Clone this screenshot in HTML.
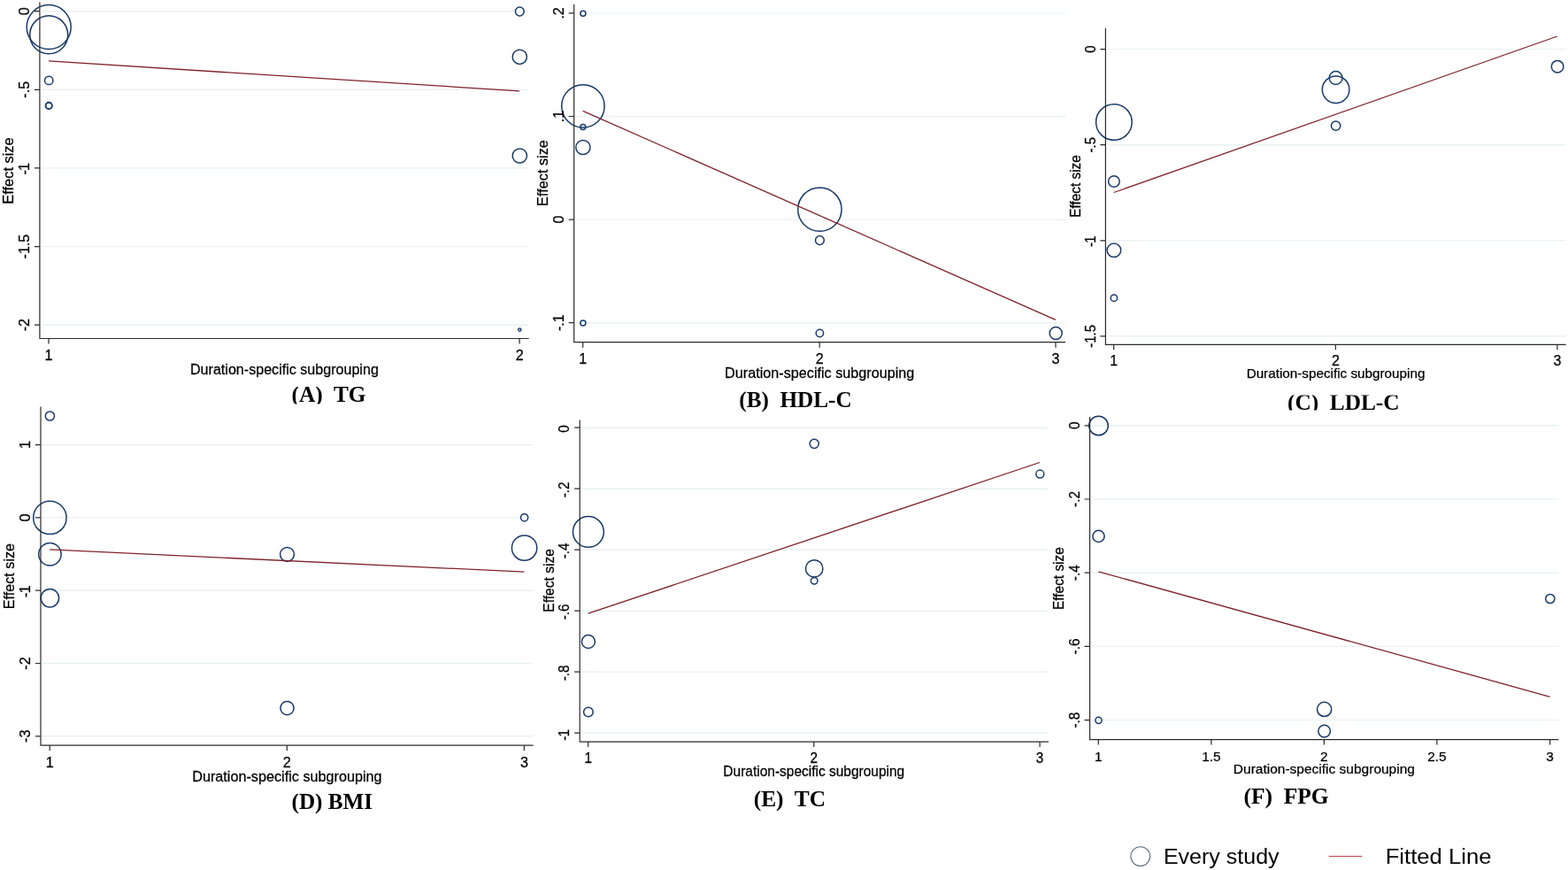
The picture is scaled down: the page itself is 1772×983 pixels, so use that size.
<!DOCTYPE html>
<html lang="en">
<head>
<meta charset="utf-8">
<title>Meta-regression bubble plots</title>
<style>
html,body{margin:0;padding:0;background:#fff;}
body{width:1772px;height:983px;overflow:hidden;position:relative;}
svg{display:block;position:absolute;left:0;top:0;}
text{white-space:pre;}
.s{font-family:"Liberation Sans",Arial,Helvetica,sans-serif;fill:#000;stroke:#000;stroke-width:0.25;}
.t{font-family:"Liberation Serif","Times New Roman",Times,serif;font-weight:bold;fill:#000;}
.lg{font-family:"Liberation Sans",Arial,Helvetica,sans-serif;fill:#000;}
.g{stroke:#eaf2f3;stroke-width:1.4;}
.a{stroke:#2a2a2a;stroke-width:1.2;fill:none;}
.c{stroke:#18396a;stroke-width:1.5;fill:none;}
.f{stroke:#7f222b;stroke-width:1.3;fill:none;}
</style>
</head>
<body>
<svg width="1772" height="983" viewBox="0 0 1772 983" role="img" aria-label="Meta-regression bubble plots by duration-specific subgrouping">
<rect x="0" y="0" width="1772" height="983" fill="#fff"/>
<g id="panel-A">
<line class="g" x1="46.9" y1="12.7" x2="597.6" y2="12.7"/>
<line class="g" x1="46.9" y1="101.3" x2="597.6" y2="101.3"/>
<line class="g" x1="46.9" y1="189.9" x2="597.6" y2="189.9"/>
<line class="g" x1="46.9" y1="278.6" x2="597.6" y2="278.6"/>
<line class="g" x1="46.9" y1="367.2" x2="597.6" y2="367.2"/>
<circle class="c" cx="55.2" cy="30.6" r="25"/>
<circle class="c" cx="55.2" cy="39.3" r="21.5"/>
<circle class="c" cx="55.2" cy="90.9" r="4.7"/>
<circle class="c" cx="55.2" cy="119.4" r="3.8"/>
<circle class="c" cx="55.2" cy="119.6" r="3.5"/>
<circle class="c" cx="587.3" cy="13" r="4.9"/>
<circle class="c" cx="587.3" cy="64.3" r="8.1"/>
<circle class="c" cx="587.3" cy="176" r="8.1"/>
<circle class="c" cx="587.3" cy="372.6" r="1.6"/>
<line class="f" x1="55" y1="68.9" x2="587.1" y2="102.9"/>
<path class="a" d="M44.9 2.5V382.5H597.6"/>
<path class="a" d="M38.9 12.7H44.9M38.9 101.3H44.9M38.9 189.9H44.9M38.9 278.6H44.9M38.9 367.2H44.9M55 382.5V388.5M587.1 382.5V388.5"/>
<text class="s" font-size="16.1" text-anchor="middle" transform="translate(32.6 12.7) rotate(-90) scale(1 1.02)">0</text>
<text class="s" font-size="16.1" text-anchor="middle" transform="translate(32.6 101.3) rotate(-90) scale(1 1.02)">-.5</text>
<text class="s" font-size="16.1" letter-spacing="-0.8" text-anchor="middle" transform="translate(32.6 191.2) rotate(-90) scale(1 1.02)">-1</text>
<text class="s" font-size="16.1" text-anchor="middle" transform="translate(32.6 278.6) rotate(-90) scale(1 1.02)">-1.5</text>
<text class="s" font-size="16.1" text-anchor="middle" transform="translate(32.6 367.2) rotate(-90) scale(1 1.02)">-2</text>
<text class="s" font-size="16.1" text-anchor="middle" transform="translate(55 407) scale(1 1.02)">1</text>
<text class="s" font-size="16.1" text-anchor="middle" transform="translate(587.1 407) scale(1 1.02)">2</text>
<text class="s" font-size="16.4" text-anchor="middle" transform="translate(14.7 193) rotate(-90) scale(1 1.02)">Effect size</text>
<text class="s" font-size="16.1" text-anchor="middle" transform="translate(321.4 422.7) scale(1 1.02)">Duration-specific subgrouping</text>
<clipPath id="clipA"><rect x="309.6" y="436.9" width="300" height="19.7"/></clipPath>
<g clip-path="url(#clipA)"><text class="t" font-size="25.3" x="329.6" y="453.6">(A)  TG</text></g>
</g>
<g id="panel-B">
<line class="g" x1="650.7" y1="14.9" x2="1204" y2="14.9"/>
<line class="g" x1="650.7" y1="131.5" x2="1204" y2="131.5"/>
<line class="g" x1="650.7" y1="248.1" x2="1204" y2="248.1"/>
<line class="g" x1="650.7" y1="364.7" x2="1204" y2="364.7"/>
<circle class="c" cx="658.9" cy="15.2" r="3"/>
<circle class="c" cx="658.9" cy="119.9" r="24.2"/>
<circle class="c" cx="658.9" cy="143.6" r="3"/>
<circle class="c" cx="658.9" cy="166.5" r="8.1"/>
<circle class="c" cx="658.9" cy="364.9" r="3"/>
<circle class="c" cx="926.4" cy="236.6" r="24.7"/>
<circle class="c" cx="926.4" cy="271.5" r="4.9"/>
<circle class="c" cx="926.4" cy="376.5" r="4.2"/>
<circle class="c" cx="1193.2" cy="376.5" r="7"/>
<line class="f" x1="658.7" y1="125.4" x2="1193" y2="361.4"/>
<path class="a" d="M648.7 5V386.7H1204"/>
<path class="a" d="M642.7 14.9H648.7M642.7 131.5H648.7M642.7 248.1H648.7M642.7 364.7H648.7M658.7 386.7V392.7M926.2 386.7V392.7M1193 386.7V392.7"/>
<text class="s" font-size="16.1" text-anchor="middle" transform="translate(636.6 14.9) rotate(-90) scale(1 1.04)">.2</text>
<text class="s" font-size="16.1" text-anchor="middle" transform="translate(636.6 131.5) rotate(-90) scale(1 1.04)">.1</text>
<text class="s" font-size="16.1" text-anchor="middle" transform="translate(636.6 248.1) rotate(-90) scale(1 1.04)">0</text>
<text class="s" font-size="16.1" text-anchor="middle" transform="translate(636.6 364.7) rotate(-90) scale(1 1.04)">-.1</text>
<text class="s" font-size="16.1" text-anchor="middle" transform="translate(658.7 411.1) scale(1 1.04)">1</text>
<text class="s" font-size="16.1" text-anchor="middle" transform="translate(926.2 411.1) scale(1 1.04)">2</text>
<text class="s" font-size="16.1" text-anchor="middle" transform="translate(1193 411.1) scale(1 1.04)">3</text>
<text class="s" font-size="16.3" text-anchor="middle" transform="translate(618.6 195.5) rotate(-90) scale(1 1.04)">Effect size</text>
<text class="s" font-size="16.2" text-anchor="middle" transform="translate(926.2 426.5) scale(1 1.04)">Duration-specific subgrouping</text>
<text class="t" font-size="25.2" x="835.3" y="460">(B)  HDL-C</text>
</g>
<g id="panel-C">
<line class="g" x1="1251.4" y1="55.6" x2="1769.7" y2="55.6"/>
<line class="g" x1="1251.4" y1="163.7" x2="1769.7" y2="163.7"/>
<line class="g" x1="1251.4" y1="271.8" x2="1769.7" y2="271.8"/>
<line class="g" x1="1251.4" y1="379.8" x2="1769.7" y2="379.8"/>
<circle class="c" cx="1258.9" cy="138" r="20.3"/>
<circle class="c" cx="1258.9" cy="205" r="6.3"/>
<circle class="c" cx="1258.9" cy="282.8" r="7.8"/>
<circle class="c" cx="1258.9" cy="336.7" r="3.7"/>
<circle class="c" cx="1509.6" cy="88" r="7.4"/>
<circle class="c" cx="1509.6" cy="101.2" r="15.3"/>
<circle class="c" cx="1509.6" cy="142.1" r="5.2"/>
<circle class="c" cx="1760.1" cy="75.2" r="6.8"/>
<line class="f" x1="1258.7" y1="217.5" x2="1759.9" y2="41"/>
<path class="a" d="M1249.4 31.9V389.3H1769.7"/>
<path class="a" d="M1243.4 55.6H1249.4M1243.4 163.7H1249.4M1243.4 271.8H1249.4M1243.4 379.8H1249.4M1258.7 389.3V395.3M1509.4 389.3V395.3M1759.9 389.3V395.3"/>
<text class="s" font-size="15" text-anchor="middle" transform="translate(1238 55.6) rotate(-90) scale(1 1.15)">0</text>
<text class="s" font-size="15" text-anchor="middle" transform="translate(1238 163.7) rotate(-90) scale(1 1.15)">-.5</text>
<text class="s" font-size="15" letter-spacing="-0.8" text-anchor="middle" transform="translate(1238 273.1) rotate(-90) scale(1 1.15)">-1</text>
<text class="s" font-size="15" text-anchor="middle" transform="translate(1238 379.8) rotate(-90) scale(1 1.15)">-1.5</text>
<text class="s" font-size="16" text-anchor="middle" transform="translate(1258.7 412.7) scale(1 1)">1</text>
<text class="s" font-size="16" text-anchor="middle" transform="translate(1509.4 412.7) scale(1 1)">2</text>
<text class="s" font-size="16" text-anchor="middle" transform="translate(1759.9 412.7) scale(1 1)">3</text>
<text class="s" font-size="15.4" text-anchor="middle" transform="translate(1220.6 210.5) rotate(-90) scale(1 1.1)">Effect size</text>
<text class="s" font-size="15.25" text-anchor="middle" transform="translate(1509.5 427.1) scale(1 1)">Duration-specific subgrouping</text>
<clipPath id="clipC"><rect x="1435" y="446.5" width="300" height="17.1"/></clipPath>
<g clip-path="url(#clipC)"><text class="t" font-size="25.3" x="1455" y="463">(C)  LDL-C</text></g>
</g>
<g id="panel-D">
<line class="g" x1="48" y1="502.6" x2="602.6" y2="502.6"/>
<line class="g" x1="48" y1="584.9" x2="602.6" y2="584.9"/>
<line class="g" x1="48" y1="667.2" x2="602.6" y2="667.2"/>
<line class="g" x1="48" y1="749.5" x2="602.6" y2="749.5"/>
<line class="g" x1="48" y1="831.8" x2="602.6" y2="831.8"/>
<circle class="c" cx="56.4" cy="470" r="5.1"/>
<circle class="c" cx="56.4" cy="584.9" r="18.7"/>
<circle class="c" cx="56.4" cy="626.3" r="12.7"/>
<circle class="c" cx="56.4" cy="675.7" r="10.2"/>
<circle class="c" cx="324.5" cy="626.4" r="7.9"/>
<circle class="c" cx="324.5" cy="800.1" r="7.6"/>
<circle class="c" cx="592.6" cy="584.8" r="4.1"/>
<circle class="c" cx="592.6" cy="619.1" r="14.2"/>
<line class="f" x1="56.2" y1="620.9" x2="592.4" y2="646.2"/>
<path class="a" d="M46 459.5V842.2H602.6"/>
<path class="a" d="M40 502.6H46M40 584.9H46M40 667.2H46M40 749.5H46M40 831.8H46M56.2 842.2V848.2M324.3 842.2V848.2M592.4 842.2V848.2"/>
<text class="s" font-size="16.2" text-anchor="middle" transform="translate(33.5 502.6) rotate(-90) scale(1 1.05)">1</text>
<text class="s" font-size="16.2" text-anchor="middle" transform="translate(33.5 584.9) rotate(-90) scale(1 1.05)">0</text>
<text class="s" font-size="16.2" letter-spacing="-0.8" text-anchor="middle" transform="translate(33.5 668.5) rotate(-90) scale(1 1.05)">-1</text>
<text class="s" font-size="16.2" text-anchor="middle" transform="translate(33.5 749.5) rotate(-90) scale(1 1.05)">-2</text>
<text class="s" font-size="16.2" text-anchor="middle" transform="translate(33.5 831.8) rotate(-90) scale(1 1.05)">-3</text>
<text class="s" font-size="16.2" text-anchor="middle" transform="translate(56.2 867.1) scale(1 1)">1</text>
<text class="s" font-size="16.2" text-anchor="middle" transform="translate(324.3 867.1) scale(1 1)">2</text>
<text class="s" font-size="16.2" text-anchor="middle" transform="translate(592.4 867.1) scale(1 1)">3</text>
<text class="s" font-size="16.2" text-anchor="middle" transform="translate(15.5 651.1) rotate(-90) scale(1 1.05)">Effect size</text>
<text class="s" font-size="16.2" text-anchor="middle" transform="translate(324.4 882.9) scale(1 1.02)">Duration-specific subgrouping</text>
<clipPath id="clipD"><rect x="309.5" y="896.6" width="300" height="33.4"/></clipPath>
<g clip-path="url(#clipD)"><text class="t" font-size="25.2" x="329.5" y="913.7">(D) BMI</text></g>
</g>
<g id="panel-E">
<line class="g" x1="657.2" y1="483.2" x2="1185" y2="483.2"/>
<line class="g" x1="657.2" y1="552.2" x2="1185" y2="552.2"/>
<line class="g" x1="657.2" y1="621.2" x2="1185" y2="621.2"/>
<line class="g" x1="657.2" y1="690.2" x2="1185" y2="690.2"/>
<line class="g" x1="657.2" y1="759.2" x2="1185" y2="759.2"/>
<line class="g" x1="657.2" y1="828.2" x2="1185" y2="828.2"/>
<circle class="c" cx="664.9" cy="600.9" r="17.4"/>
<circle class="c" cx="664.9" cy="725" r="7.5"/>
<circle class="c" cx="664.9" cy="804.5" r="5.3"/>
<circle class="c" cx="920.2" cy="501.3" r="5.1"/>
<circle class="c" cx="920.2" cy="642.4" r="9.7"/>
<circle class="c" cx="920.2" cy="656.2" r="3.8"/>
<circle class="c" cx="1175.3" cy="535.6" r="4.5"/>
<line class="f" x1="664.7" y1="693.2" x2="1175.1" y2="522.5"/>
<path class="a" d="M655.2 474.4V838.1H1185"/>
<path class="a" d="M649.2 483.2H655.2M649.2 552.2H655.2M649.2 621.2H655.2M649.2 690.2H655.2M649.2 759.2H655.2M649.2 828.2H655.2M664.7 838.1V844.1M919.8 838.1V844.1M1175.1 838.1V844.1"/>
<text class="s" font-size="15.3" text-anchor="middle" transform="translate(643.4 484.4) rotate(-90) scale(1 1.09)">0</text>
<text class="s" font-size="15.3" text-anchor="middle" transform="translate(643.4 553.4) rotate(-90) scale(1 1.09)">-.2</text>
<text class="s" font-size="15.3" text-anchor="middle" transform="translate(643.4 622.4) rotate(-90) scale(1 1.09)">-.4</text>
<text class="s" font-size="15.3" text-anchor="middle" transform="translate(643.4 691.4) rotate(-90) scale(1 1.09)">-.6</text>
<text class="s" font-size="15.3" text-anchor="middle" transform="translate(643.4 760.4) rotate(-90) scale(1 1.09)">-.8</text>
<text class="s" font-size="15.3" letter-spacing="-0.8" text-anchor="middle" transform="translate(643.4 830.7) rotate(-90) scale(1 1.09)">-1</text>
<text class="s" font-size="15.3" text-anchor="middle" transform="translate(664.7 862.2) scale(1 1.09)">1</text>
<text class="s" font-size="15.3" text-anchor="middle" transform="translate(919.8 862.2) scale(1 1.09)">2</text>
<text class="s" font-size="15.3" text-anchor="middle" transform="translate(1175.1 862.2) scale(1 1.09)">3</text>
<text class="s" font-size="15.6" text-anchor="middle" transform="translate(625.7 655.9) rotate(-90) scale(1 1.09)">Effect size</text>
<text class="s" font-size="15.5" text-anchor="middle" transform="translate(919.8 876.7) scale(1 1.04)">Duration-specific subgrouping</text>
<text class="t" font-size="25.4" x="851.7" y="911.4">(E)  TC</text>
</g>
<g id="panel-F">
<line class="g" x1="1233.6" y1="480.8" x2="1761.3" y2="480.8"/>
<line class="g" x1="1233.6" y1="564" x2="1761.3" y2="564"/>
<line class="g" x1="1233.6" y1="647.2" x2="1761.3" y2="647.2"/>
<line class="g" x1="1233.6" y1="730.4" x2="1761.3" y2="730.4"/>
<line class="g" x1="1233.6" y1="813.6" x2="1761.3" y2="813.6"/>
<circle class="c" cx="1241.5" cy="481" r="10.8"/>
<circle class="c" cx="1241.5" cy="605.9" r="6.6"/>
<circle class="c" cx="1241.5" cy="813.8" r="3.6"/>
<circle class="c" cx="1496.6" cy="801.4" r="8.1"/>
<circle class="c" cx="1496.6" cy="826.1" r="6.8"/>
<circle class="c" cx="1751.8" cy="676.5" r="5.1"/>
<line class="f" x1="1241.3" y1="645.8" x2="1751.6" y2="787.3"/>
<path class="a" d="M1231.6 471V835.6H1761.3"/>
<path class="a" d="M1225.6 480.8H1231.6M1225.6 564H1231.6M1225.6 647.2H1231.6M1225.6 730.4H1231.6M1225.6 813.6H1231.6M1241.3 835.6V841.6M1368.9 835.6V841.6M1496.4 835.6V841.6M1623.9 835.6V841.6M1751.6 835.6V841.6"/>
<text class="s" font-size="15.4" text-anchor="middle" transform="translate(1220 480.8) rotate(-90) scale(1 1.1)">0</text>
<text class="s" font-size="15.4" text-anchor="middle" transform="translate(1220 564) rotate(-90) scale(1 1.1)">-.2</text>
<text class="s" font-size="15.4" text-anchor="middle" transform="translate(1220 647.2) rotate(-90) scale(1 1.1)">-.4</text>
<text class="s" font-size="15.4" text-anchor="middle" transform="translate(1220 730.4) rotate(-90) scale(1 1.1)">-.6</text>
<text class="s" font-size="15.4" text-anchor="middle" transform="translate(1220 813.6) rotate(-90) scale(1 1.1)">-.8</text>
<text class="s" font-size="15.4" text-anchor="middle" transform="translate(1241.3 859.7) scale(1 1)">1</text>
<text class="s" font-size="15.4" text-anchor="middle" transform="translate(1368.9 859.7) scale(1 1)">1.5</text>
<text class="s" font-size="15.4" text-anchor="middle" transform="translate(1496.4 859.7) scale(1 1)">2</text>
<text class="s" font-size="15.4" text-anchor="middle" transform="translate(1623.9 859.7) scale(1 1)">2.5</text>
<text class="s" font-size="15.4" text-anchor="middle" transform="translate(1751.6 859.7) scale(1 1)">3</text>
<text class="s" font-size="15.4" text-anchor="middle" transform="translate(1202.3 653.6) rotate(-90) scale(1 1.1)">Effect size</text>
<text class="s" font-size="15.5" text-anchor="middle" transform="translate(1496.4 874.2) scale(1 1)">Duration-specific subgrouping</text>
<text class="t" font-size="25.5" x="1405.4" y="908.1">(F)  FPG</text>
</g>
<g id="legend">
<circle cx="1288.8" cy="967.6" r="10.9" fill="none" stroke="#5b6f86" stroke-width="1.1"/>
<text class="lg" font-size="24.8" transform="translate(1314.9 976.2) scale(1.009 1)">Every study</text>
<line x1="1501.7" y1="967.5" x2="1539.3" y2="967.5" stroke="#c2414b" stroke-width="1.1"/>
<text class="lg" font-size="24.8" transform="translate(1565.7 975.9) scale(1.034 1)">Fitted Line</text>
</g>
</svg>
</body>
</html>
